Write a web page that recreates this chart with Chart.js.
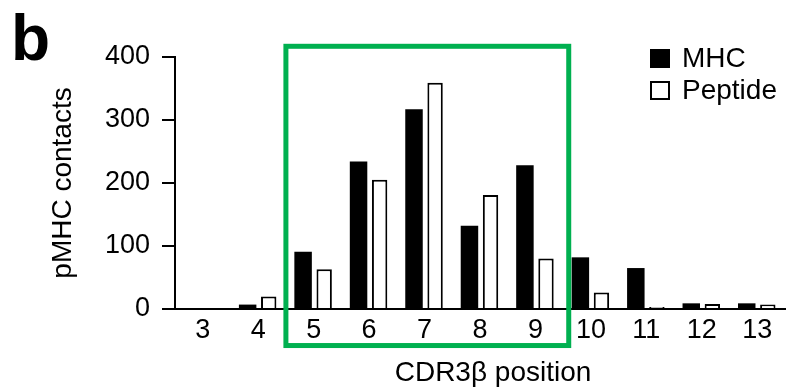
<!DOCTYPE html>
<html>
<head>
<meta charset="utf-8">
<script src="https://cdn.jsdelivr.net/npm/chart.js@4.4.0/dist/chart.umd.min.js"></script>
<style>
  html, body { margin: 0; padding: 0; background: #fff; }
  #wrap { width: 792px; height: 389px; }
</style>
</head>
<body>
<div id="wrap"><canvas id="contactsChart"></canvas></div>
<script>
// CDR3beta positions and contact counts
const positions = ["3", "4", "5", "6", "7", "8", "9", "10", "11", "12", "13"];
const mhcContacts = [0, 7, 91, 234, 317, 132, 228, 82, 65, 9, 9];
const peptideContacts = [0, 20, 63, 205, 359, 181, 80, 26, 3, 8, 7];
const yTicks = [0, 100, 200, 300, 400];

const FONT = "'Liberation Sans', Arial, Helvetica, sans-serif";
const xTitle = "CDR3β position";
const highlightFrom = "5";
const highlightTo = "9";

// panel letter, x title, green box around positions 5-9 and the legend
const extras = {
  id: "extras",
  afterDraw(chart) {
    const ctx = chart.ctx;
    const x = chart.scales.x;
    const y = chart.scales.y;
    const step = x.getPixelForValue(1) - x.getPixelForValue(0);

    ctx.save();
    ctx.fillStyle = "#000";
    ctx.font = "bold 64px " + FONT;
    ctx.textBaseline = "alphabetic";
    ctx.fillText("b", 11, 60);

    // x title sits a little right of the plot centre in the original
    ctx.font = "28px " + FONT;
    ctx.textAlign = "center";
    ctx.textBaseline = "middle";
    ctx.fillText(xTitle, x.getPixelForValue(positions.indexOf("8")) + 13, 373);
    ctx.textAlign = "left";

    const i0 = positions.indexOf(highlightFrom);
    const i1 = positions.indexOf(highlightTo);
    const left = x.getPixelForValue(i0) - step * 0.5;
    const right = x.getPixelForValue(i1) + step * 0.6;
    const top = y.getPixelForValue(417);
    const bottom = y.getPixelForValue(-58);
    ctx.strokeStyle = "#00b050";
    ctx.lineWidth = 5;
    ctx.strokeRect(left, top, right - left, bottom - top);

    // legend
    ctx.font = "28px " + FONT;
    ctx.textBaseline = "middle";
    chart.data.datasets.forEach((ds, i) => {
      const cy = 58 + i * 32;
      ctx.fillStyle = ds.backgroundColor;
      ctx.fillRect(650, cy - 9, 20, 19);
      ctx.strokeStyle = "#000";
      ctx.lineWidth = 2;
      ctx.strokeRect(651, cy - 8, 18, 17);
      ctx.fillStyle = "#000";
      ctx.fillText(ds.label, 682, cy + 1);
    });
    ctx.restore();
  }
};

new Chart(document.getElementById("contactsChart"), {
  type: "bar",
  data: {
    labels: positions,
    datasets: [
      {
        label: "MHC",
        data: mhcContacts,
        backgroundColor: "#000",
        borderColor: "#000",
        borderWidth: 0,
        barPercentage: 0.83,
        categoryPercentage: 0.76
      },
      {
        label: "Peptide",
        data: peptideContacts,
        backgroundColor: "#fff",
        borderColor: "#000",
        borderWidth: 2,
        barPercentage: 0.73,
        categoryPercentage: 0.76
      }
    ]
  },
  options: {
    responsive: true,
    maintainAspectRatio: false,
    animation: false,
    layout: { padding: { top: 57, right: 7, left: 0, bottom: 0 } },
    plugins: {
      legend: { display: false },
      tooltip: { enabled: false }
    },
    scales: {
      x: {
        grid: { display: false, drawTicks: false },
        border: { display: true, color: "#000", width: 2 },
        ticks: { color: "#000", font: { family: FONT, size: 27 }, padding: 5 },
        title: { display: false },
        afterFit(scale) { scale.height = 80; }
      },
      y: {
        min: 0,
        max: 400,
        afterBuildTicks(scale) { scale.ticks = yTicks.map(v => ({ value: v })); },
        grid: {
          drawOnChartArea: false,
          drawTicks: true,
          tickLength: 13,
          color: "#000",
          lineWidth: 2
        },
        border: { display: true, color: "#000", width: 2 },
        ticks: { color: "#000", font: { family: FONT, size: 27 }, padding: 12 },
        title: {
          display: true,
          text: "pMHC contacts",
          color: "#000",
          font: { family: FONT, size: 28 },
          padding: { top: 46, bottom: 0 }
        },
        afterFit(scale) { scale.width = 175; }
      }
    }
  },
  plugins: [extras]
});
</script>
</body>
</html>
